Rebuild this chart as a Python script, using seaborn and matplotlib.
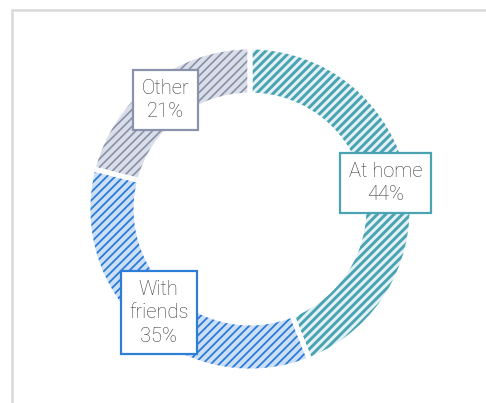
import numpy as np
import matplotlib
matplotlib.use("Agg")
import matplotlib.pyplot as plt
from matplotlib.lines import Line2D
import seaborn as sns

# Where people spend their time
categories = ["At home", "With friends", "Other"]
shares = [44, 35, 21]

stripe_colors = ["#4AA3B1", "#2A7BD8", "#8890A9"]
box_colors = ["#4AA3B1", "#2E7DD6", "#8A93AB"]
fill_colors = ["#E4F1F7", "#CCDFF6", "#DADEE8"]
hatch_widths = [2.1, 1.3, 1.2]

sns.set_theme(style="white")
plt.rcParams["font.family"] = ["Roboto", "DejaVu Sans"]

W, H = 486, 403
fig = plt.figure(figsize=(W / 100, H / 100), dpi=100)
ax = fig.add_axes([0, 0, 1, 1])

cx, cy = 250, H - 209
R, ring = 162, 48

wedges, _ = ax.pie(
    shares,
    center=(cx, cy),
    radius=R,
    startangle=90,
    counterclock=False,
    colors=fill_colors,
    wedgeprops=dict(width=ring, linewidth=0),
    frame=True,
)

for w, sc, hw in zip(wedges, stripe_colors, hatch_widths):
    w.set_edgecolor(sc)
    w.set_hatch("////")
    if hasattr(w, "set_hatch_linewidth"):
        w.set_hatch_linewidth(hw)
    w.set_linewidth(0)

# white separators between slices
ax.pie(
    shares,
    center=(cx, cy),
    radius=R,
    startangle=90,
    counterclock=False,
    colors=["none"] * len(shares),
    wedgeprops=dict(width=ring, linewidth=3.5, edgecolor="white", fill=False),
    frame=True,
)
ax.set_xlim(0, W)
ax.set_ylim(0, H)
ax.set_aspect("equal")
ax.axis("off")

# labels in boxes at the middle of the ring
rmid = R - ring / 2
for w, name, val, bc in zip(wedges, categories, shares, box_colors):
    ang = np.deg2rad((w.theta1 + w.theta2) / 2)
    x = cx + rmid * np.cos(ang)
    y = cy + rmid * np.sin(ang)
    txt = name.replace("With ", "With\n") + f"\n{val}%"
    ax.text(x, y, txt, ha="center", va="center", fontsize=14.5,
            color="#3A3A3A", linespacing=1.3, fontweight="light",
            bbox=dict(boxstyle="square,pad=0.42", facecolor="white",
                      edgecolor=bc, linewidth=1.6))

# light frame around the chart area
fig.add_artist(Line2D([12 / W, 1], [1 - 10 / H, 1 - 10 / H],
                      color="#D9D9D9", linewidth=1.8, transform=fig.transFigure))
fig.add_artist(Line2D([12 / W, 12 / W], [0, 1 - 10 / H],
                      color="#D9D9D9", linewidth=1.8, transform=fig.transFigure))

fig.savefig("out.png", dpi=100)
